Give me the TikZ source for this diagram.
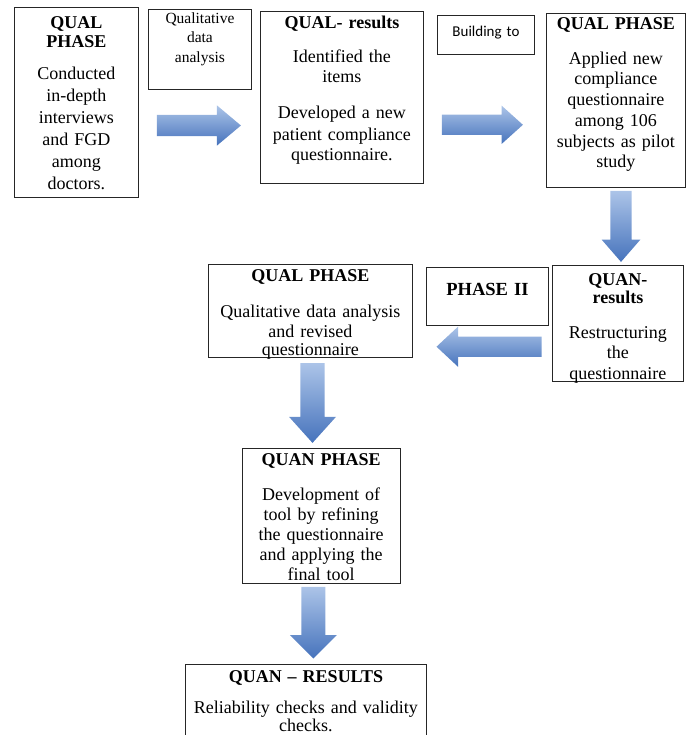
\documentclass[tikz,border=0pt]{standalone}
\usepackage{fontspec}
\setmainfont{Liberation Serif}
\newfontfamily\calibrifont{Carlito}
\usetikzlibrary{shapes.arrows,positioning}
\definecolor{arrowlight}{RGB}{172,196,232}
\definecolor{arrowdark}{RGB}{70,115,188}

\begin{document}
\begin{tikzpicture}[x=1pt,y=-1pt,
    box/.style={draw=black!85,line width=0.9pt,inner xsep=2pt,inner ysep=0pt,
                anchor=north west,align=center,
                font=\fontsize{18}{21}\selectfont},
    note/.style={box,font=\fontsize{15.5}{19.5}\selectfont},
    blockarr/.style={single arrow,draw=none,anchor=tail,
                     top color=arrowlight,bottom color=arrowdark},
  ]
    \clip (0,0) rectangle (686,735);
    % first row
    \node[box,font=\fontsize{18}{22}\selectfont,
          text width=120,text height=21.3,text depth=168.4] (qual1) at (14,7)
      {{\bfseries QUAL\\[-3.6pt] PHASE}\\[10.3pt] Conducted\\ in-depth\\
       interviews\\ and FGD\\ among\\ doctors.};
    \node[note,text width=99,text height=14,text depth=66] (qualdata) at (148,9)
      {Qualitative\\ data\\ analysis};
    \node[box,text width=159,text height=17,text depth=155] (qualres) at (260,11)
      {{\bfseries QUAL- results}\\[12.7pt] Identified the\\[-1pt] items\\[15.3pt]
       Developed a new\\[1pt] patient compliance\\[-1pt] questionnaire.};
    \node[note,font=\calibrifont\fontsize{15}{18}\selectfont,
          text width=93,text height=21,text depth=18] (build) at (437,15) {Building to};
    \node[box,text width=135,text height=15.6,text depth=158.4] (qual2) at (546,13)
      {{\bfseries QUAL PHASE}\\[14.7pt] Applied new\\[-1pt] compliance\\ questionnaire\\
       among 106\\[-.3pt] subjects as pilot\\[-1pt] study};
    % second row
    \node[box,text width=127,text height=20,text depth=95.7] (quanres) at (552,265)
      {{\bfseries QUAN-\\[-2.6pt] results}\\[14pt] Restructuring\\[-1pt] the\\[-0.5pt]
       questionnaire};
    \node[box,font=\bfseries\fontsize{18.5}{21}\selectfont,
          text width=118,text height=28.3,text depth=29.3] (phase2) at (426,267) {PHASE II};
    \node[box,text width=200,text height=16.7,text depth=75.7] (qual3) at (208,264.3)
      {{\bfseries QUAL PHASE}\\[14.7pt] Qualitative data analysis\\[-1pt] and revised\\[-2.7pt]
       questionnaire};
    % lower part
    \node[box,text width=154,text height=16.7,text depth=118.3] (quan) at (241.7,448.3)
      {{\bfseries QUAN PHASE}\\[14pt] Development of\\[-1pt] tool by refining\\[-1pt]
       the questionnaire\\[-1pt] and applying the\\[-1pt] final tool};
    \node[box,text width=237,text height=17.7,text depth=90] (quanfin) at (185,664)
      {{\bfseries QUAN -- RESULTS}\\[10pt] Reliability checks and validity\\[-3pt] checks.};
    % block arrows
    \node[blockarr,minimum height=84,inner xsep=0pt,inner ysep=10.5,
          single arrow head extend=9.5,single arrow tip angle=80] (arr1) at (156.7,125.5) {};
    \node[blockarr,minimum height=81,inner xsep=0pt,inner ysep=10,
          single arrow head extend=9,single arrow tip angle=84] (arr2) at (441.7,124.8) {};
    \node[blockarr,minimum height=71,inner xsep=10.5,inner ysep=0pt,
          single arrow head extend=8.7,single arrow tip angle=82,
          shape border rotate=270] (arr3) at (621,190.7) {};
    \node[blockarr,minimum height=105,inner xsep=0pt,inner ysep=10,
          single arrow head extend=10,single arrow tip angle=86,
          shape border rotate=180] (arr4) at (541.7,346.7) {};
    \node[blockarr,minimum height=79.7,inner xsep=12,inner ysep=0pt,
          single arrow head extend=11.3,single arrow tip angle=84,
          shape border rotate=270] (arr5) at (312.5,363) {};
    \node[blockarr,minimum height=71.6,inner xsep=11.8,inner ysep=0pt,
          single arrow head extend=11.5,single arrow tip angle=90,
          shape border rotate=270] (arr6) at (313.3,586.7) {};
\end{tikzpicture}
\end{document}
